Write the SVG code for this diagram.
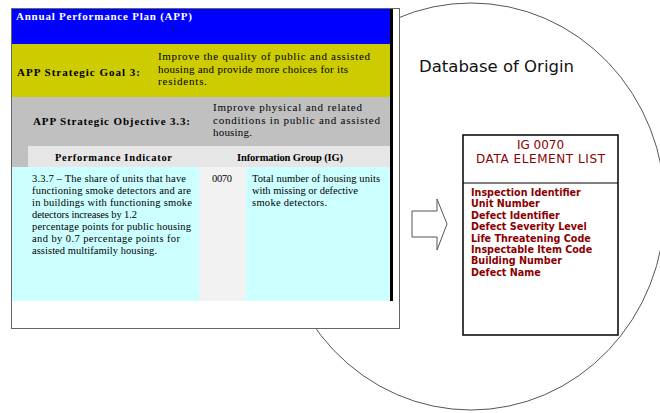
<svg xmlns="http://www.w3.org/2000/svg" width="660" height="413" viewBox="0 0 660 413">
<style>
.s{font-family:"Liberation Serif","Times New Roman",serif;font-size:11px;fill:#000}
.m{font-size:10.5px}
.b{font-weight:bold}
.w{fill:#fff}
.r{font-family:"DejaVu Sans",Verdana,sans-serif;fill:#8b0000}
.li{font-size:9.6px;font-weight:bold}
</style>
<rect width="660" height="413" fill="#fff"/>
<g id="database">
<ellipse cx="471" cy="206.5" rx="194" ry="203.5" fill="#fff" stroke="#555" stroke-width="1"/>
<text x="419" y="72" font-family="'DejaVu Sans',Verdana,sans-serif" font-size="16.5" fill="#111">Database of Origin</text>
</g>
<g id="app-table">
<rect x="11.5" y="8.5" width="388" height="320" fill="#fff" stroke="#666" stroke-width="1"/>
<rect x="12" y="9" width="378" height="35" fill="#0000ff"/>
<rect x="12" y="44" width="378" height="53" fill="#cccc00"/>
<rect x="12" y="97" width="378" height="70" fill="#c0c0c0"/>
<rect x="28" y="146" width="362" height="21" fill="#e6e6e6"/>
<rect x="12" y="167" width="187" height="134" fill="#ccffff"/>
<rect x="199" y="167" width="47" height="134" fill="#f2f2f2"/>
<rect x="246" y="167" width="144" height="134" fill="#ccffff"/>
<rect x="390" y="9" width="3" height="292" fill="#000"/>
<text class="s b w" x="16" y="20" textLength="176" lengthAdjust="spacing">Annual Performance Plan (APP)</text>
<text class="s b" x="17" y="76" textLength="123" lengthAdjust="spacing">APP Strategic Goal 3:</text>
<text class="s" x="158" y="60" textLength="212" lengthAdjust="spacing">Improve the quality of public and assisted</text>
<text class="s" x="158" y="72.5" textLength="190" lengthAdjust="spacing">housing and provide more choices for its</text>
<text class="s" x="158" y="85" textLength="49" lengthAdjust="spacing">residents.</text>
<text class="s b" x="33" y="125" textLength="157" lengthAdjust="spacing">APP Strategic Objective 3.3:</text>
<text class="s" x="213" y="111" textLength="149" lengthAdjust="spacing">Improve physical and related</text>
<text class="s" x="213" y="123.5" textLength="167" lengthAdjust="spacing">conditions in public and assisted</text>
<text class="s" x="213" y="136" textLength="39" lengthAdjust="spacing">housing.</text>
<text class="s b m" x="55" y="160.5" textLength="117" lengthAdjust="spacing">Performance Indicator</text>
<text class="s b m" x="237" y="160.5" textLength="106" lengthAdjust="spacing">Information Group (IG)</text>
<text class="s m" x="32" y="182" textLength="154" lengthAdjust="spacing">3.3.7 – The share of units that have</text>
<text class="s m" x="32" y="194" textLength="159" lengthAdjust="spacing">functioning smoke detectors and are</text>
<text class="s m" x="32" y="206" textLength="160" lengthAdjust="spacing">in buildings with functioning smoke</text>
<text class="s m" x="32" y="218" textLength="105" lengthAdjust="spacing">detectors increases by 1.2</text>
<text class="s m" x="32" y="230" textLength="159" lengthAdjust="spacing">percentage points for public housing</text>
<text class="s m" x="32" y="242" textLength="148" lengthAdjust="spacing">and by 0.7 percentage points for</text>
<text class="s m" x="32" y="254" textLength="125" lengthAdjust="spacing">assisted multifamily housing.</text>
<text class="s m" x="212" y="182" textLength="20" lengthAdjust="spacing">0070</text>
<text class="s m" x="252" y="182" textLength="128" lengthAdjust="spacing">Total number of housing units</text>
<text class="s m" x="252" y="194" textLength="106" lengthAdjust="spacing">with missing or defective</text>
<text class="s m" x="252" y="206" textLength="75" lengthAdjust="spacing">smoke detectors.</text>
</g>
<g id="connectors">
<polygon points="412,211 437,211 437,199 447,224 437,250 437,237 412,237" fill="#fff" stroke="#555" stroke-width="1"/>
</g>
<g id="data-element-list">
<rect x="463" y="135" width="155" height="200" fill="#fff" stroke="#000" stroke-width="1.5"/>
<line x1="463" y1="183" x2="618" y2="183" stroke="#000" stroke-width="1"/>
<text class="r" x="540.5" y="149" font-size="12" text-anchor="middle">IG 0070</text>
<text class="r" x="540.5" y="163" font-size="12" text-anchor="middle" textLength="129" lengthAdjust="spacing">DATA ELEMENT LIST</text>
<text class="r li" x="471" y="196">Inspection Identifier</text>
<text class="r li" x="471" y="207.4">Unit Number</text>
<text class="r li" x="471" y="218.8">Defect Identifier</text>
<text class="r li" x="471" y="230.2">Defect Severity Level</text>
<text class="r li" x="471" y="241.6">Life Threatening Code</text>
<text class="r li" x="471" y="253">Inspectable Item Code</text>
<text class="r li" x="471" y="264.4">Building Number</text>
<text class="r li" x="471" y="275.8">Defect Name</text>
</g>
</svg>
